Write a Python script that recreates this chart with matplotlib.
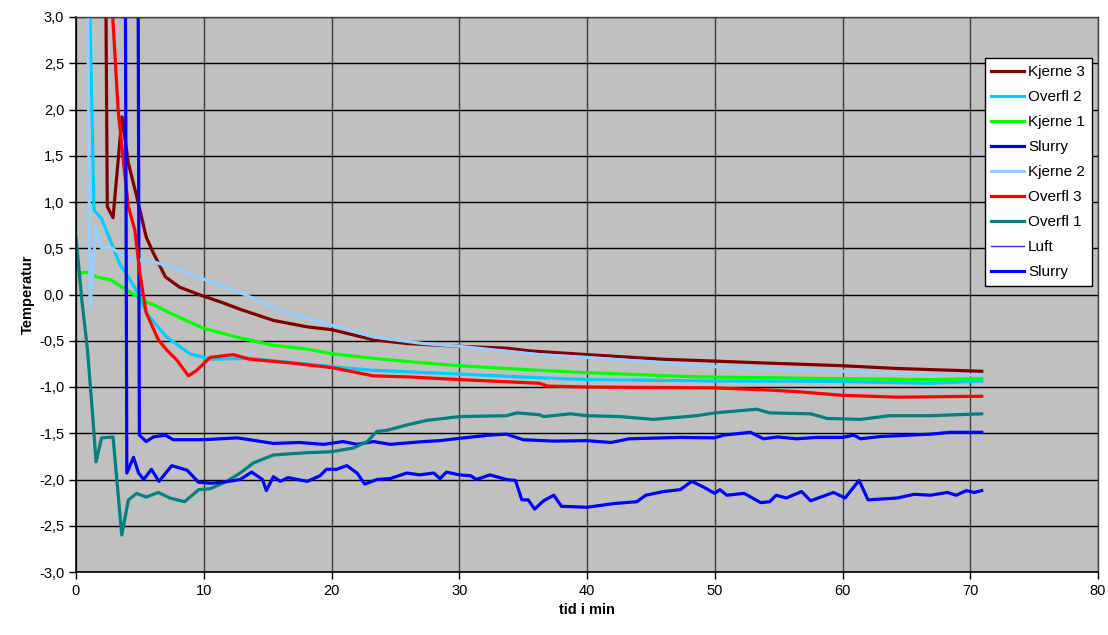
import numpy as np
import matplotlib.pyplot as plt
from matplotlib.ticker import FuncFormatter, MultipleLocator

plt.rcParams['font.family'] = ['Liberation Sans', 'DejaVu Sans']

# Data (tid i min, temperatur). Values above 3,0 or below -3,0 are off the chart.
t_kjerne3 = [0, 2.3, 2.45, 2.9, 3.6, 4.1, 4.75, 5.5, 6.05, 7.0, 8.1, 9.7, 11.3, 12.85, 15.45, 18.1, 20, 23.3, 25.9, 30, 33.7, 35.55, 40, 46, 50, 53.8, 60, 64.3, 70.9]
kjerne3 = [4.0, 4.0, 0.95, 0.83, 1.92, 1.42, 1.06, 0.62, 0.45, 0.19, 0.08, -0.005, -0.08, -0.16, -0.28, -0.35, -0.38, -0.49, -0.53, -0.56, -0.58, -0.61, -0.65, -0.70, -0.72, -0.74, -0.77, -0.80, -0.83]

t_overfl2 = [0, 1.0, 1.41, 2.0, 3.45, 4.1, 5.0, 5.5, 7.1, 8.9, 10.5, 13.6, 20, 23.3, 30, 36.3, 40, 50, 60, 66.9, 70.9]
overfl2 = [4.0, 3.6, 0.91, 0.82, 0.32, 0.19, -0.02, -0.2, -0.46, -0.64, -0.70, -0.69, -0.78, -0.82, -0.86, -0.90, -0.92, -0.935, -0.94, -0.96, -0.935]

t_kjerne1 = [0, 0.96, 1.6, 2.7, 3.7, 4.75, 5.5, 6.05, 7.35, 9.97, 12.85, 15.45, 18.1, 20, 23.3, 27.2, 30, 36.3, 40, 48.6, 60, 66.9, 70.9]
kjerne1 = [0.23, 0.24, 0.19, 0.16, 0.07, -0.02, -0.08, -0.11, -0.2, -0.365, -0.47, -0.55, -0.59, -0.64, -0.69, -0.74, -0.77, -0.82, -0.845, -0.89, -0.91, -0.92, -0.91]

t_slurry1 = [0, 4.85, 4.96, 5.5, 6.05, 7.0, 7.6, 10, 12.6, 13.6, 15.45, 17.5, 19.4, 20.9, 22, 23.3, 24.6, 27.2, 28.5, 30, 32.4, 33.7, 35, 37.4, 40, 41.9, 43.3, 47.3, 50, 50.7, 52.8, 53.8, 54.9, 56.4, 58, 60, 60.9, 61.4, 63, 66.9, 68.4, 70.9]
slurry1 = [4.0, 4.0, -1.52, -1.59, -1.54, -1.52, -1.57, -1.57, -1.55, -1.57, -1.61, -1.60, -1.62, -1.59, -1.62, -1.59, -1.62, -1.59, -1.58, -1.555, -1.52, -1.51, -1.57, -1.585, -1.58, -1.60, -1.56, -1.545, -1.55, -1.52, -1.49, -1.56, -1.54, -1.56, -1.545, -1.545, -1.52, -1.56, -1.535, -1.51, -1.49, -1.49]

t_kjerne2 = [0, 0.9, 1.1, 1.57, 2.0, 2.8, 4.1, 6.05, 8.1, 10.5, 12.85, 16.5, 20, 23.3, 27.2, 30, 36.3, 40, 50, 60, 66.9, 70.9]
kjerne2 = [4.0, 3.5, -0.15, 0.73, 0.50, 0.50, 0.39, 0.355, 0.265, 0.14, 0.02, -0.2, -0.33, -0.46, -0.53, -0.56, -0.65, -0.68, -0.78, -0.83, -0.87, -0.87]

t_overfl3 = [0, 2.5, 3.3, 3.7, 4.1, 4.6, 5.0, 5.5, 6.45, 7.1, 7.9, 8.8, 9.45, 10.5, 12.3, 13.6, 16.8, 20, 23.3, 25.9, 30, 36.3, 36.9, 40, 50, 53.8, 56.4, 60, 64.3, 70.9]
overfl3 = [4.0, 3.9, 1.99, 1.45, 0.95, 0.70, 0.23, -0.2, -0.49, -0.6, -0.71, -0.88, -0.82, -0.68, -0.65, -0.70, -0.74, -0.79, -0.88, -0.89, -0.92, -0.96, -0.99, -1.0, -1.01, -1.03, -1.05, -1.09, -1.11, -1.1]

t_overfl1 = [0, 0.45, 0.9, 1.3, 1.57, 2.0, 2.9, 3.58, 4.1, 4.75, 5.5, 6.45, 7.35, 8.5, 9.6, 10.5, 11.8, 12.85, 13.9, 15.45, 18.1, 20, 21.7, 22.8, 23.55, 24.3, 25.9, 27.5, 30, 33.7, 34.5, 36.3, 36.6, 38.7, 40, 42.6, 45.2, 48.6, 50, 53.3, 54.3, 57.5, 58.8, 61.4, 63.7, 66.9, 70.9]
overfl1 = [0.62, -0.05, -0.6, -1.3, -1.81, -1.55, -1.54, -2.6, -2.22, -2.15, -2.19, -2.14, -2.2, -2.24, -2.11, -2.1, -2.02, -1.93, -1.82, -1.735, -1.71, -1.70, -1.66, -1.59, -1.48, -1.47, -1.41, -1.36, -1.32, -1.31, -1.28, -1.30, -1.32, -1.29, -1.31, -1.32, -1.35, -1.31, -1.28, -1.24, -1.28, -1.29, -1.34, -1.35, -1.31, -1.31, -1.29]

# Luft ligger under skalaen (-3,0) hele tiden
t_luft = [0, 10, 20, 30, 40, 50, 60, 70.9]
luft = [-18.0, -19.5, -20.0, -20.2, -20.3, -20.4, -20.4, -20.5]

t_slurry2 = [0, 3.85, 3.98, 4.5, 4.9, 5.3, 5.9, 6.5, 7.5, 8.7, 9.6, 10.5, 11.5, 12.85, 13.75, 14.6, 14.9, 15.45, 16, 16.6, 18.1, 19.1, 19.6, 20.4, 21.2, 22, 22.6, 23.55, 24.6, 25.9, 26.9, 28, 28.5, 29, 30, 30.9, 31.35, 32.4, 33.7, 34.4, 34.9, 35.4, 35.9, 36.6, 37.4, 38, 40, 42.1, 43.9, 44.6, 46, 47.3, 48.2, 49.1, 50, 50.4, 50.95, 52.3, 53.6, 54.3, 54.8, 55.6, 56.8, 57.5, 58.3, 59.3, 60.2, 61.3, 62.0, 64.3, 65.6, 66.9, 68.2, 68.9, 69.7, 70.3, 70.9]
slurry2 = [4.0, 4.0, -1.93, -1.76, -1.93, -2.0, -1.89, -2.02, -1.85, -1.90, -2.03, -2.04, -2.03, -2.0, -1.92, -2.0, -2.12, -1.97, -2.02, -1.98, -2.02, -1.96, -1.89, -1.89, -1.85, -1.93, -2.05, -2.0, -1.99, -1.93, -1.95, -1.93, -1.99, -1.92, -1.95, -1.96, -2.0, -1.95, -2.0, -2.01, -2.22, -2.22, -2.32, -2.23, -2.17, -2.29, -2.30, -2.26, -2.24, -2.17, -2.13, -2.11, -2.02, -2.08, -2.15, -2.11, -2.17, -2.15, -2.25, -2.24, -2.17, -2.20, -2.13, -2.23, -2.19, -2.14, -2.20, -2.01, -2.22, -2.20, -2.16, -2.17, -2.14, -2.17, -2.12, -2.14, -2.12]

# Serier i samme rekkefølge som legenden
series = [
    ("Kjerne 3", t_kjerne3, kjerne3, "#800000", 2.3),
    ("Overfl 2", t_overfl2, overfl2, "#00CCFF", 2.3),
    ("Kjerne 1", t_kjerne1, kjerne1, "#00FF00", 2.3),
    ("Slurry", t_slurry1, slurry1, "#0000FF", 2.3),
    ("Kjerne 2", t_kjerne2, kjerne2, "#99CCFF", 2.3),
    ("Overfl 3", t_overfl3, overfl3, "#FF0000", 2.3),
    ("Overfl 1", t_overfl1, overfl1, "#008080", 2.3),
    ("Luft", t_luft, luft, "#3333FF", 1.0),
    ("Slurry", t_slurry2, slurry2, "#0000FF", 2.3),
]


def comma(v, pos):
    return ("%.1f" % v).replace(".", ",")


def main():
    fig = plt.figure(figsize=(11.08, 6.35), dpi=100)
    ax = fig.add_axes([76 / 1108, 63 / 635, 1022 / 1108, 555 / 635])
    ax.set_facecolor("#C0C0C0")

    for label, t, v, color, lw in series:
        ax.plot(t, v, color=color, linewidth=lw, label=label)

    ax.set_xlim(0, 80)
    ax.set_ylim(-3, 3)
    ax.xaxis.set_major_locator(MultipleLocator(10))
    ax.yaxis.set_major_locator(MultipleLocator(0.5))
    ax.yaxis.set_major_formatter(FuncFormatter(comma))
    ax.tick_params(direction="out", length=5, width=1, labelsize=10.5, colors="black")

    ax.xaxis.grid(True, color="#404040", linewidth=1)
    ax.yaxis.grid(True, color="black", linewidth=1)
    ax.set_axisbelow(True)
    for side in ["left", "bottom"]:
        ax.spines[side].set_color("black")
        ax.spines[side].set_linewidth(1.2)
    for side in ["top", "right"]:
        ax.spines[side].set_color("#404040")
        ax.spines[side].set_linewidth(1)

    ax.set_xlabel("tid i min", fontsize=10.5, fontweight="bold", labelpad=4)
    ax.set_ylabel("Temperatur", fontsize=10.5, fontweight="bold", labelpad=3)

    leg = ax.legend(loc="upper right", bbox_to_anchor=(0.994, 0.926), fontsize=11,
                    frameon=True, fancybox=False, shadow=False, framealpha=1,
                    handlelength=2.1, labelspacing=0.72, borderpad=0.45, handletextpad=0.3,
                    borderaxespad=0)
    leg.get_frame().set_edgecolor("black")
    leg.get_frame().set_linewidth(1)

    fig.savefig("out.png", dpi=100)


if __name__ == "__main__":
    main()
